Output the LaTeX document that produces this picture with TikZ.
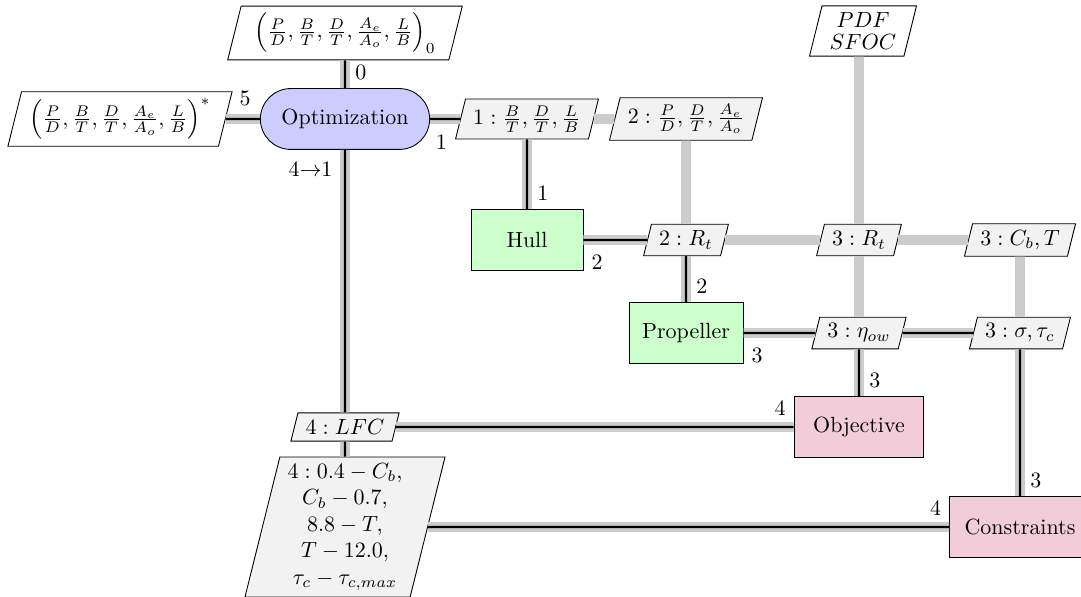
\documentclass[tikz,border=0pt]{standalone}
\usepackage{amsmath}
\usetikzlibrary{shapes.geometric}
\usetikzlibrary{positioning}
\tikzstyle{optim}=[draw, fill=blue!20, rounded corners=13.8pt, minimum width=77pt, minimum height=27.7pt, inner sep=0pt]
\tikzstyle{func}=[draw, fill=green!20, minimum width=51pt, minimum height=28pt, inner xsep=6pt]
\tikzstyle{resp}=[draw, fill=purple!20, minimum height=28pt, inner xsep=6pt]
\tikzstyle{io}=[draw, fill=white, trapezium, trapezium left angle=76, trapezium right angle=104, inner xsep=3.5pt, inner ysep=3pt, align=center]
\tikzstyle{inter}=[io, fill=black!5]
\tikzstyle{data}=[line width=4.5pt, draw=black!20]
\tikzstyle{both}=[line width=1.75pt, draw=black!20, double=black, double distance=1pt]
\tikzstyle{lbl}=[inner sep=0pt]

\begin{document}
\begin{tikzpicture}[x=0.455pt, y=-0.455pt]
  \useasboundingbox (0,0) rectangle (1081,597);
  % optimizer and its inputs/outputs
  \node[io, inner xsep=6pt] (x0) at (345,33)
    {$\left(\frac{P}{D}, \frac{B}{T}, \frac{D}{T}, \frac{A_e}{A_o}, \frac{L}{B}\right)_0$};
  \node[io] (xstar) at (120,119)
    {$\left(\frac{P}{D}, \frac{B}{T}, \frac{D}{T}, \frac{A_e}{A_o}, \frac{L}{B}\right)^*$};
  \node[optim] (opt) at (345,119) {Optimization};
  \node[inter] (dv1) at (527,119) {$1: \frac{B}{T}, \frac{D}{T}, \frac{L}{B}$};
  \node[inter] (dv2) at (686,119) {$2: \frac{P}{D}, \frac{D}{T}, \frac{A_e}{A_o}$};
  \node[io] (pdf) at (863,31) {$PDF$\\[-2pt]$SFOC$};
  % analyses
  \node[func] (hull) at (527,240) {Hull};
  \node[inter] (rt2) at (686,240) {$2: R_t$};
  \node[inter] (rt3) at (859,240) {$3: R_t$};
  \node[inter] (cbt) at (1020,240) {$3: C_b, T$};
  \node[func] (prop) at (686,333) {Propeller};
  \node[inter] (eta) at (859,333) {$3: \eta_{ow}$};
  \node[inter] (sig) at (1020,333) {$3: \sigma, \tau_c$};
  \node[resp, minimum width=59pt] (obj) at (859,427) {Objective};
  \node[inter] (lfc) at (345,427) {$4: LFC$};
  \node[inter] (glist) at (345,527)
    {$4: 0.4 - C_b,$\\$C_b - 0.7,$\\$8.8 - T,$\\$T - 12.0,$\\$\tau_c - \tau_{c,max}$};
  \node[resp, minimum width=64pt] (con) at (1020,527) {Constraints};

  % data only
  \draw[data] (dv1) -- (dv2);
  \draw[data] (dv2) -- (rt2);
  \draw[data] (rt2) -- (rt3);
  \draw[data] (rt3) -- (cbt);
  \draw[data] (pdf.south -| rt3) -- (rt3);
  \draw[data] (rt3) -- (eta);
  \draw[data] (cbt) -- (sig);
  % data plus process
  \draw[both] (x0) -- (opt);
  \draw[both] (xstar) -- (opt);
  \draw[both] (opt) -- (dv1);
  \draw[both] (dv1) -- (hull);
  \draw[both] (hull) -- (rt2);
  \draw[both] (rt2) -- (prop);
  \draw[both] (prop) -- (eta);
  \draw[both] (eta) -- (sig);
  \draw[both] (eta) -- (obj);
  \draw[both] (sig) -- (con);
  \draw[both] (opt) -- (lfc);
  \draw[both] (lfc) -- (obj);
  \draw[both] (lfc) -- (glist);
  \draw[both] (glist) -- (con);

  % step numbers
  \node[lbl, above right=3.5pt and 4.5pt of opt.north] (s0) {0};
  \node[lbl, above left=5.5pt and 4pt of opt.west] (s5) {5};
  \node[lbl, below right=7pt and 2.5pt of opt.east] (s1a) {1};
  \node[lbl, below left=5pt and 5.5pt of opt.south] (s41) {4$\rightarrow$1};
  \node[lbl, above right=3.5pt and 4.5pt of hull.north] (s1b) {1};
  \node[lbl, below right=6.5pt and 3.5pt of hull.east] (s2a) {2};
  \node[lbl, above right=3.5pt and 4.5pt of prop.north] (s2b) {2};
  \node[lbl, below right=6.5pt and 3.5pt of prop.east] (s3a) {3};
  \node[lbl, above right=3.5pt and 4.5pt of obj.north] (s3b) {3};
  \node[lbl, above left=5pt and 3.5pt of obj.west] (s4a) {4};
  \node[lbl, above right=3.5pt and 4.5pt of con.north] (s3c) {3};
  \node[lbl, above left=5pt and 3.5pt of con.west] (s4b) {4};
\end{tikzpicture}
\end{document}
